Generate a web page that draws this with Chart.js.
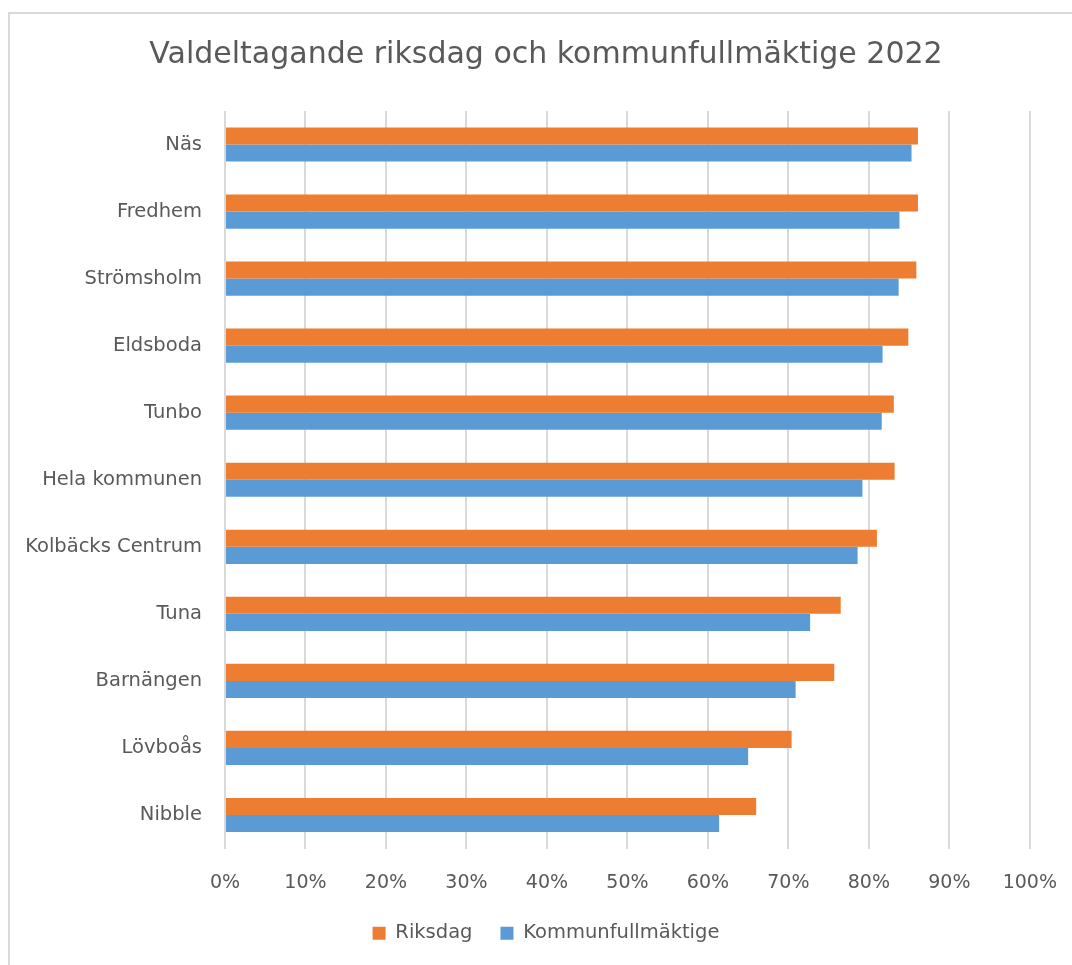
<!DOCTYPE html>
<html>
<head>
<meta charset="utf-8">
<script src="https://cdn.jsdelivr.net/npm/chart.js@4/dist/chart.umd.min.js"></script>
<style>
  html, body { margin: 0; padding: 0; background: #fff; }
  #wrap { position: relative; width: 1072px; height: 965px; overflow: hidden; }
  #frame { position: absolute; left: 8px; top: 12px; width: 1100px; height: 1000px;
           border: 2px solid #d9d9d9; box-sizing: border-box; }
  #c { position: absolute; left: 0; top: 0; }
</style>
</head>
<body>
<div id="wrap">
  <div id="frame"></div>
  <!-- canvas runs a little past the right edge, like the frame -->
  <canvas id="c" width="1080" height="965"></canvas>
</div>
<script>
// valdistrikt, uppifrån och ned
const categories = ['Näs', 'Fredhem', 'Strömsholm', 'Eldsboda', 'Tunbo', 'Hela kommunen',
  'Kolbäcks Centrum', 'Tuna', 'Barnängen', 'Lövboås', 'Nibble'];
// valdeltagande i procent
const riksdag = [86.1, 86.1, 85.9, 84.9, 83.1, 83.2, 81.0, 76.5, 75.7, 70.4, 66.0];
const kommunfullmaktige = [85.3, 83.8, 83.7, 81.7, 81.6, 79.2, 78.6, 72.7, 70.9, 65.0, 61.4];
const xTicks = ['0%', '10%', '20%', '30%', '40%', '50%', '60%', '70%', '80%', '90%', '100%'];

const textColor = '#595959';
const fontFamily = '"DejaVu Sans", sans-serif';

new Chart(document.getElementById('c'), {
  type: 'bar',
  data: {
    labels: categories,
    datasets: [
      { label: 'Riksdag', data: riksdag, backgroundColor: '#ED7D31' },
      { label: 'Kommunfullmäktige', data: kommunfullmaktige, backgroundColor: '#5B9BD5' }
    ]
  },
  options: {
    indexAxis: 'y',
    responsive: false,
    animation: false,
    categoryPercentage: 0.51,
    barPercentage: 1.0,
    layout: { padding: { left: 20, right: 8, top: 0, bottom: 12 } },
    scales: {
      x: {
        min: 0,
        max: 100,
        ticks: {
          stepSize: 10,
          color: textColor,
          font: { family: fontFamily, size: 19 },
          padding: 23,
          callback: (v, i) => xTicks[i]
        },
        grid: { color: '#d9d9d9', lineWidth: 2, drawTicks: false },
        border: { display: false },
        afterFit: (scale) => { scale.height = 47; }
      },
      y: {
        ticks: {
          color: textColor,
          font: { family: fontFamily, size: 19.5 },
          padding: 23
        },
        grid: { display: false, drawTicks: false },
        border: { display: false },
        afterFit: (scale) => { scale.width = 205; }
      }
    },
    plugins: {
      title: {
        display: true,
        text: 'Valdeltagande riksdag och kommunfullmäktige 2022',
        color: textColor,
        font: { family: fontFamily, size: 30, weight: 'normal', lineHeight: 1.2 },
        padding: { top: 37, bottom: 38 }
      },
      legend: {
        position: 'bottom',
        labels: {
          color: textColor,
          font: { family: fontFamily, size: 19.5 },
          boxWidth: 13,
          boxHeight: 13,
          padding: 28
        }
      },
      tooltip: { enabled: false }
    }
  }
});
</script>
</body>
</html>
